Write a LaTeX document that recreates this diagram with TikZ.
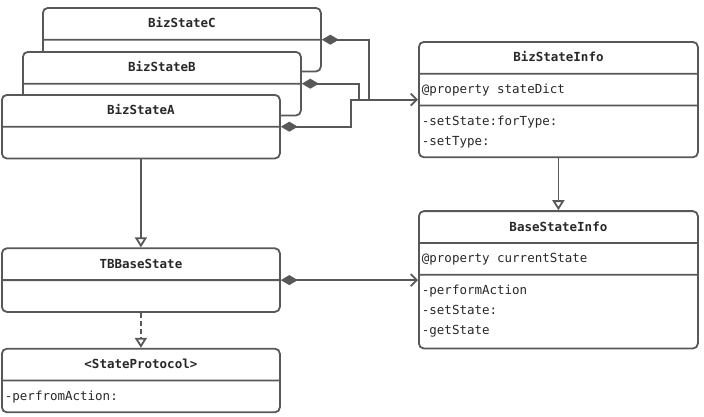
\documentclass[tikz,border=0pt]{standalone}
\usepackage{fontspec}
\setmonofont{DejaVu Sans Mono}
\usepackage{xcolor}
\definecolor{umlgray}{RGB}{88,88,88}
\definecolor{umltext}{RGB}{40,40,40}
\usetikzlibrary{shapes.multipart, arrows.meta, positioning}
\newcommand{\umlfont}{\ttfamily\fontsize{12.5}{20}\selectfont}
\tikzset{
  umlclass/.style={
    rectangle split, rectangle split parts=#1,
    rectangle split part align={center,left,left},
    draw=umlgray, fill=white, line width=1.8pt,
    rounded corners=5pt, minimum width=278pt,
    inner xsep=3pt, inner ysep=5pt, align=left,
    anchor=north west, text=umltext, font=\umlfont},
  gen/.style={-{Triangle[open, length=10pt, width=12pt]}, line width=1.8pt, umlgray},
  has/.style={{Diamond[length=17pt, width=10pt]}-, line width=1.8pt, umlgray},
  hasto/.style={{Diamond[length=17pt, width=10pt]}-{Straight Barb[length=6pt, width=12pt]},
    line width=1.8pt, umlgray},
}

\begin{document}
\begin{tikzpicture}[x=1pt, y=-1pt]
  \useasboundingbox (0,0) rectangle (704,416);
  \node[umlclass=2] (bsc) at (42,7)
    {\strut\textbf{BizStateC}\nodepart{two}\strut};
  \node[umlclass=2] (bsb) at (22,51)
    {\strut\textbf{BizStateB}\nodepart{two}\strut};
  \node[umlclass=2] (bsa) at (1,94)
    {\strut\textbf{BizStateA}\nodepart{two}\strut};
  \node[umlclass=2, below=88pt of bsa] (tb)
    {\strut\textbf{TBBaseState}\nodepart{two}\strut};
  \node[umlclass=2, below=35pt of tb] (proto)
    {\strut\textbf{<StateProtocol>}\nodepart{two}\strut-perfromAction:};
  \node[umlclass=3, minimum width=279pt] (info) at (418,41)
    {\strut\textbf{BizStateInfo}
     \nodepart{two}\strut@property stateDict
     \nodepart{three}\strut-setState:forType:\\\strut-setType:};
  \node[umlclass=3, minimum width=279pt, below=52pt of info] (base)
    {\strut\textbf{BaseStateInfo}
     \nodepart{two}\strut@property currentState
     \nodepart{three}\strut-performAction\\\strut-setState:\\\strut-getState\rule[-8pt]{0pt}{8pt}};
  \draw[has] (bsc.text split east) -| ([xshift=-49pt]info.west);
  \draw[has] (bsb.text split east) -| ([xshift=-59pt]info.west);
  \draw[hasto] (bsa.text split east) -- ++(70,0) |- (info.west);
  \draw[gen] (bsa.south) -- (tb.north);
  \draw[gen, dashed, dash pattern=on 5pt off 3pt] (tb.south) -- (proto.north);
  \draw[gen] (info.south) -- (base.north);
  \draw[hasto] (tb.text split east) -- (tb.text split east -| base.west);
\end{tikzpicture}
\end{document}
